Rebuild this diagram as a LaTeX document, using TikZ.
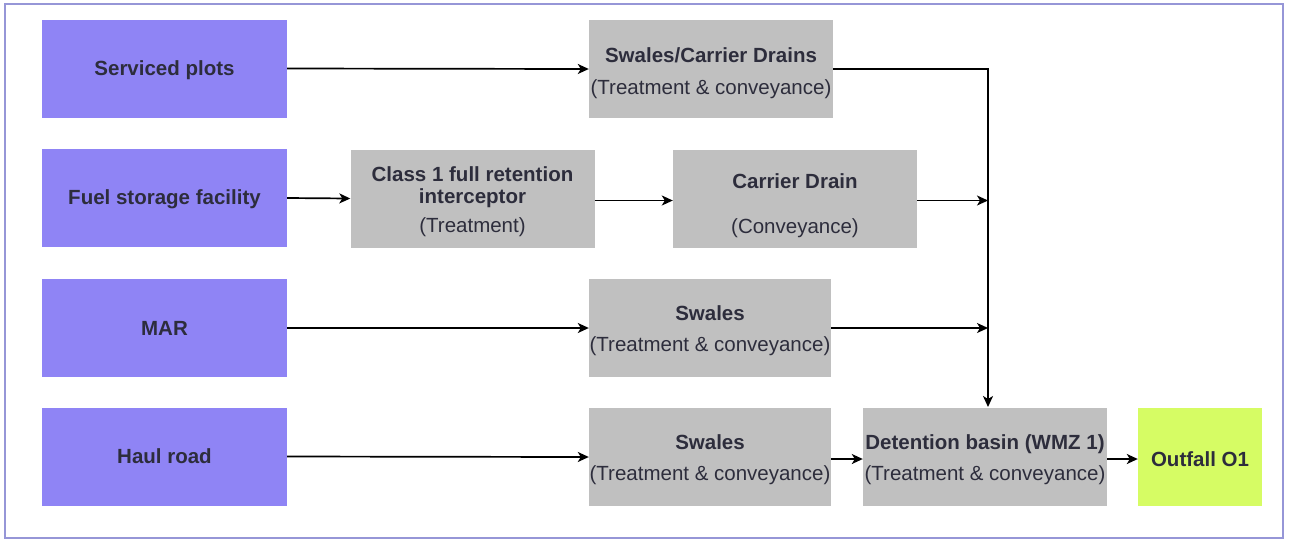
\documentclass[tikz,border=0pt]{standalone}
\usepackage{fontspec}
\setmainfont{Liberation Sans}
\usetikzlibrary{arrows.meta}
\definecolor{srcblue}{RGB}{143,132,245}
\definecolor{procgray}{RGB}{192,192,192}
\definecolor{outgreen}{RGB}{214,252,100}
\definecolor{framec}{RGB}{150,150,215}
\definecolor{txt}{RGB}{45,45,60}
\begin{document}
\begin{tikzpicture}[x=1pt,y=-1pt,
  box/.style={minimum height=98pt, inner sep=0pt},
  src/.style={box, fill=srcblue, minimum width=245pt},
  proc/.style={box, fill=procgray, minimum width=244pt},
  outf/.style={box, fill=outgreen, minimum width=124pt},
  lbl/.style={inner sep=0pt, align=center, text=txt,
    font=\fontsize{20.5}{23}\selectfont},
  flow/.style={draw=black, line width=1.7pt, -{Stealth[length=11pt,width=10pt,inset=3pt]}}]
\useasboundingbox (0,0) rectangle (1289,542);
\draw[framec, line width=1.5pt] (5,4) rectangle (1283,538);

% sources
\node[src] (sp)  at (164.5,68.5) {};
\node[src] (fs)  at (164.5,198)  {};
\node[src] (mar) at (164.5,328)  {};
\node[src] (hr)  at (164.5,456.5){};
\node[lbl] (sp-t)  at ([yshift=-2pt]sp.center)  {\textbf{Serviced plots}};
\node[lbl] (fs-t)  at ([yshift=-1pt]fs.center)  {\textbf{Fuel storage facility}};
\node[lbl] (mar-t) at ([yshift=0pt]mar.center)  {\textbf{MAR}};
\node[lbl] (hr-t)  at ([yshift=0pt]hr.center)   {\textbf{Haul road}};

% processes
\node[proc] (scd) at (711,69) {};
\node[proc] (c1)  at (472.5,198.5) {};
\node[proc] (cd)  at (795,198.5) {};
\node[proc, minimum width=242pt] (sw3) at (710,328) {};
\node[proc, minimum width=242pt] (sw4) at (710,457) {};
\node[proc] (det) at (985,457) {};
\node[outf] (out) at (1200,457) {};

\node[lbl] (scd-t) at ([yshift=-4pt]scd.center) {\textbf{Swales/Carrier Drains}\\[9pt](Treatment \& conveyance)};
\node[lbl] (c1-t)  at ([yshift=-3pt]c1.center)  {\textbf{Class 1 full retention}\\[-1pt]\textbf{interceptor}\\[6pt](Treatment)};
\node[lbl] (cd-t)  at ([yshift=-7pt]cd.center)  {\textbf{Carrier Drain}\\[22pt](Conveyance)};
\node[lbl] (sw3-t) at ([yshift=-3pt]sw3.center) {\textbf{Swales}\\[8pt](Treatment \& conveyance)};
\node[lbl] (sw4-t) at ([yshift=-3pt]sw4.center) {\textbf{Swales}\\[8pt](Treatment \& conveyance)};
\node[lbl] (det-t) at ([yshift=-3pt]det.center) {\textbf{Detention basin (WMZ 1)}\\[8pt](Treatment \& conveyance)};
\node[lbl] (out-t) at ([yshift=-2pt]out.center) {\textbf{Outfall O1}};

\coordinate (bus) at (988,407);

% connectors
\draw[flow] (sp.east) -- (scd.west);
\draw[flow] (fs.east) -- (c1.west);
\draw[flow] ([yshift=-2pt]c1.east) -- ([yshift=-2pt]cd.west);
\draw[flow] (mar.east) -- (sw3.west);
\draw[flow] (hr.east) -- (sw4.west);
\draw[flow] (scd.east) -| (bus);
\draw[flow] ([yshift=-2pt]cd.east) -- ([yshift=-2pt]cd.east -| bus);
\draw[flow] (sw3.east) -- (sw3.east -| bus);
\draw[flow] ([yshift=-2pt]sw4.east) -- ([yshift=-2pt]det.west);
\draw[flow] ([yshift=-2pt]det.east) -- ([yshift=-2pt]out.west);
\end{tikzpicture}
\end{document}
